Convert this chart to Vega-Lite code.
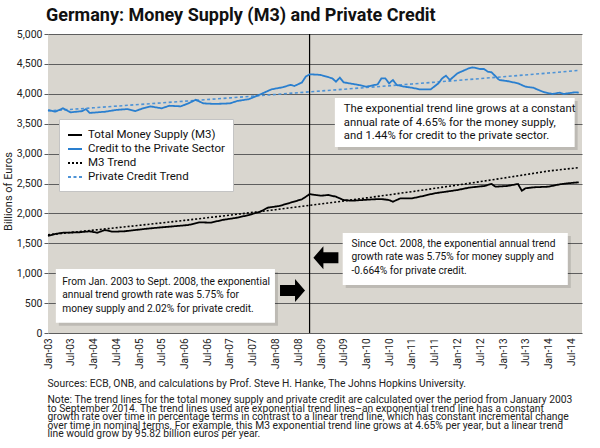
{
"$schema": "https://vega.github.io/schema/vega-lite/v6.json",
"width": 534, "height": 299,
"autosize": "none",
"padding": {"left": 48, "top": 34, "right": 18, "bottom": 115},
"background": "white",
"title": {"text": "Germany: Money Supply (M3) and Private Credit", "anchor": "start", "frame": "group", "fontSize": 18, "fontWeight": "bold", "font": "Roboto", "color": "#111", "offset": 4, "dx": -2},
"config": {
  "view": {"fill": "#d9d6cf", "stroke": null},
  "font": "Roboto",
  "axis": {"labelFont": "Roboto", "titleFont": "Roboto"},
  "legend": {"labelFont": "Roboto"}
},
"datasets": {
  "series": [
    {"series": "Credit to the Private Sector", "date": "2003-01-01", "value": 3729},
    {"series": "Credit to the Private Sector", "date": "2003-03-01", "value": 3701},
    {"series": "Credit to the Private Sector", "date": "2003-05-01", "value": 3757},
    {"series": "Credit to the Private Sector", "date": "2003-07-01", "value": 3690},
    {"series": "Credit to the Private Sector", "date": "2003-10-01", "value": 3710},
    {"series": "Credit to the Private Sector", "date": "2003-11-01", "value": 3745},
    {"series": "Credit to the Private Sector", "date": "2003-12-01", "value": 3680},
    {"series": "Credit to the Private Sector", "date": "2004-02-01", "value": 3690},
    {"series": "Credit to the Private Sector", "date": "2004-04-01", "value": 3700},
    {"series": "Credit to the Private Sector", "date": "2004-07-01", "value": 3730},
    {"series": "Credit to the Private Sector", "date": "2004-10-01", "value": 3745},
    {"series": "Credit to the Private Sector", "date": "2004-12-01", "value": 3710},
    {"series": "Credit to the Private Sector", "date": "2005-02-01", "value": 3757},
    {"series": "Credit to the Private Sector", "date": "2005-04-01", "value": 3790},
    {"series": "Credit to the Private Sector", "date": "2005-07-01", "value": 3757},
    {"series": "Credit to the Private Sector", "date": "2005-09-01", "value": 3800},
    {"series": "Credit to the Private Sector", "date": "2005-12-01", "value": 3790},
    {"series": "Credit to the Private Sector", "date": "2006-02-01", "value": 3840},
    {"series": "Credit to the Private Sector", "date": "2006-04-01", "value": 3900},
    {"series": "Credit to the Private Sector", "date": "2006-06-01", "value": 3840},
    {"series": "Credit to the Private Sector", "date": "2006-09-01", "value": 3830},
    {"series": "Credit to the Private Sector", "date": "2007-01-01", "value": 3840},
    {"series": "Credit to the Private Sector", "date": "2007-03-01", "value": 3880},
    {"series": "Credit to the Private Sector", "date": "2007-06-01", "value": 3910},
    {"series": "Credit to the Private Sector", "date": "2007-09-01", "value": 3990},
    {"series": "Credit to the Private Sector", "date": "2007-12-01", "value": 4075},
    {"series": "Credit to the Private Sector", "date": "2008-03-01", "value": 4110},
    {"series": "Credit to the Private Sector", "date": "2008-05-01", "value": 4150},
    {"series": "Credit to the Private Sector", "date": "2008-06-01", "value": 4130},
    {"series": "Credit to the Private Sector", "date": "2008-08-01", "value": 4190},
    {"series": "Credit to the Private Sector", "date": "2008-09-01", "value": 4290},
    {"series": "Credit to the Private Sector", "date": "2008-10-01", "value": 4326},
    {"series": "Credit to the Private Sector", "date": "2008-12-01", "value": 4320},
    {"series": "Credit to the Private Sector", "date": "2009-01-01", "value": 4314},
    {"series": "Credit to the Private Sector", "date": "2009-04-01", "value": 4259},
    {"series": "Credit to the Private Sector", "date": "2009-05-01", "value": 4203},
    {"series": "Credit to the Private Sector", "date": "2009-06-01", "value": 4270},
    {"series": "Credit to the Private Sector", "date": "2009-07-01", "value": 4192},
    {"series": "Credit to the Private Sector", "date": "2009-11-01", "value": 4147},
    {"series": "Credit to the Private Sector", "date": "2010-01-01", "value": 4119},
    {"series": "Credit to the Private Sector", "date": "2010-04-01", "value": 4159},
    {"series": "Credit to the Private Sector", "date": "2010-05-01", "value": 4259},
    {"series": "Credit to the Private Sector", "date": "2010-06-01", "value": 4259},
    {"series": "Credit to the Private Sector", "date": "2010-07-01", "value": 4175},
    {"series": "Credit to the Private Sector", "date": "2010-08-01", "value": 4231},
    {"series": "Credit to the Private Sector", "date": "2010-09-01", "value": 4147},
    {"series": "Credit to the Private Sector", "date": "2010-11-01", "value": 4119},
    {"series": "Credit to the Private Sector", "date": "2011-01-01", "value": 4102},
    {"series": "Credit to the Private Sector", "date": "2011-03-01", "value": 4075},
    {"series": "Credit to the Private Sector", "date": "2011-06-01", "value": 4075},
    {"series": "Credit to the Private Sector", "date": "2011-08-01", "value": 4175},
    {"series": "Credit to the Private Sector", "date": "2011-09-01", "value": 4259},
    {"series": "Credit to the Private Sector", "date": "2011-10-01", "value": 4303},
    {"series": "Credit to the Private Sector", "date": "2011-11-01", "value": 4231},
    {"series": "Credit to the Private Sector", "date": "2012-01-01", "value": 4342},
    {"series": "Credit to the Private Sector", "date": "2012-04-01", "value": 4426},
    {"series": "Credit to the Private Sector", "date": "2012-05-01", "value": 4443},
    {"series": "Credit to the Private Sector", "date": "2012-07-01", "value": 4415},
    {"series": "Credit to the Private Sector", "date": "2012-08-01", "value": 4415},
    {"series": "Credit to the Private Sector", "date": "2012-09-01", "value": 4370},
    {"series": "Credit to the Private Sector", "date": "2012-10-01", "value": 4360},
    {"series": "Credit to the Private Sector", "date": "2012-12-01", "value": 4231},
    {"series": "Credit to the Private Sector", "date": "2013-02-01", "value": 4214},
    {"series": "Credit to the Private Sector", "date": "2013-05-01", "value": 4175},
    {"series": "Credit to the Private Sector", "date": "2013-07-01", "value": 4119},
    {"series": "Credit to the Private Sector", "date": "2013-09-01", "value": 4102},
    {"series": "Credit to the Private Sector", "date": "2013-11-01", "value": 4047},
    {"series": "Credit to the Private Sector", "date": "2013-12-01", "value": 4025},
    {"series": "Credit to the Private Sector", "date": "2014-02-01", "value": 3997},
    {"series": "Credit to the Private Sector", "date": "2014-04-01", "value": 4019},
    {"series": "Credit to the Private Sector", "date": "2014-05-01", "value": 3997},
    {"series": "Credit to the Private Sector", "date": "2014-08-01", "value": 4025},
    {"series": "Credit to the Private Sector", "date": "2014-09-01", "value": 4020},
    {"series": "Total Money Supply (M3)", "date": "2003-01-01", "value": 1622},
    {"series": "Total Money Supply (M3)", "date": "2003-03-01", "value": 1656},
    {"series": "Total Money Supply (M3)", "date": "2003-05-01", "value": 1677},
    {"series": "Total Money Supply (M3)", "date": "2003-09-01", "value": 1683},
    {"series": "Total Money Supply (M3)", "date": "2003-12-01", "value": 1700},
    {"series": "Total Money Supply (M3)", "date": "2004-02-01", "value": 1677},
    {"series": "Total Money Supply (M3)", "date": "2004-04-01", "value": 1722},
    {"series": "Total Money Supply (M3)", "date": "2004-06-01", "value": 1694},
    {"series": "Total Money Supply (M3)", "date": "2004-09-01", "value": 1700},
    {"series": "Total Money Supply (M3)", "date": "2004-12-01", "value": 1722},
    {"series": "Total Money Supply (M3)", "date": "2005-04-01", "value": 1750},
    {"series": "Total Money Supply (M3)", "date": "2005-07-01", "value": 1767},
    {"series": "Total Money Supply (M3)", "date": "2005-11-01", "value": 1789},
    {"series": "Total Money Supply (M3)", "date": "2006-02-01", "value": 1806},
    {"series": "Total Money Supply (M3)", "date": "2006-05-01", "value": 1851},
    {"series": "Total Money Supply (M3)", "date": "2006-08-01", "value": 1845},
    {"series": "Total Money Supply (M3)", "date": "2006-11-01", "value": 1890},
    {"series": "Total Money Supply (M3)", "date": "2007-03-01", "value": 1929},
    {"series": "Total Money Supply (M3)", "date": "2007-06-01", "value": 1973},
    {"series": "Total Money Supply (M3)", "date": "2007-09-01", "value": 2029},
    {"series": "Total Money Supply (M3)", "date": "2007-11-01", "value": 2096},
    {"series": "Total Money Supply (M3)", "date": "2008-02-01", "value": 2124},
    {"series": "Total Money Supply (M3)", "date": "2008-05-01", "value": 2179},
    {"series": "Total Money Supply (M3)", "date": "2008-08-01", "value": 2236},
    {"series": "Total Money Supply (M3)", "date": "2008-09-01", "value": 2279},
    {"series": "Total Money Supply (M3)", "date": "2008-10-01", "value": 2322},
    {"series": "Total Money Supply (M3)", "date": "2009-01-01", "value": 2296},
    {"series": "Total Money Supply (M3)", "date": "2009-03-01", "value": 2308},
    {"series": "Total Money Supply (M3)", "date": "2009-05-01", "value": 2279},
    {"series": "Total Money Supply (M3)", "date": "2009-07-01", "value": 2224},
    {"series": "Total Money Supply (M3)", "date": "2009-09-01", "value": 2212},
    {"series": "Total Money Supply (M3)", "date": "2009-12-01", "value": 2224},
    {"series": "Total Money Supply (M3)", "date": "2010-03-01", "value": 2236},
    {"series": "Total Money Supply (M3)", "date": "2010-05-01", "value": 2240},
    {"series": "Total Money Supply (M3)", "date": "2010-07-01", "value": 2224},
    {"series": "Total Money Supply (M3)", "date": "2010-08-01", "value": 2196},
    {"series": "Total Money Supply (M3)", "date": "2010-10-01", "value": 2252},
    {"series": "Total Money Supply (M3)", "date": "2011-01-01", "value": 2252},
    {"series": "Total Money Supply (M3)", "date": "2011-04-01", "value": 2291},
    {"series": "Total Money Supply (M3)", "date": "2011-07-01", "value": 2336},
    {"series": "Total Money Supply (M3)", "date": "2011-10-01", "value": 2363},
    {"series": "Total Money Supply (M3)", "date": "2012-01-01", "value": 2391},
    {"series": "Total Money Supply (M3)", "date": "2012-04-01", "value": 2430},
    {"series": "Total Money Supply (M3)", "date": "2012-08-01", "value": 2458},
    {"series": "Total Money Supply (M3)", "date": "2012-10-01", "value": 2492},
    {"series": "Total Money Supply (M3)", "date": "2012-11-01", "value": 2447},
    {"series": "Total Money Supply (M3)", "date": "2013-02-01", "value": 2458},
    {"series": "Total Money Supply (M3)", "date": "2013-05-01", "value": 2492},
    {"series": "Total Money Supply (M3)", "date": "2013-06-01", "value": 2380},
    {"series": "Total Money Supply (M3)", "date": "2013-07-01", "value": 2420},
    {"series": "Total Money Supply (M3)", "date": "2013-09-01", "value": 2436},
    {"series": "Total Money Supply (M3)", "date": "2014-01-01", "value": 2447},
    {"series": "Total Money Supply (M3)", "date": "2014-04-01", "value": 2486},
    {"series": "Total Money Supply (M3)", "date": "2014-06-01", "value": 2503},
    {"series": "Total Money Supply (M3)", "date": "2014-09-01", "value": 2520}
  ],
  "trend": [
    {"series": "M3 Trend", "date": "2003-01-01", "value": 1643},
    {"series": "M3 Trend", "date": "2004-01-01", "value": 1720},
    {"series": "M3 Trend", "date": "2005-01-01", "value": 1800},
    {"series": "M3 Trend", "date": "2006-01-01", "value": 1883},
    {"series": "M3 Trend", "date": "2007-01-01", "value": 1971},
    {"series": "M3 Trend", "date": "2008-01-01", "value": 2062},
    {"series": "M3 Trend", "date": "2009-01-01", "value": 2158},
    {"series": "M3 Trend", "date": "2010-01-01", "value": 2259},
    {"series": "M3 Trend", "date": "2011-01-01", "value": 2364},
    {"series": "M3 Trend", "date": "2012-01-01", "value": 2474},
    {"series": "M3 Trend", "date": "2013-01-01", "value": 2589},
    {"series": "M3 Trend", "date": "2014-01-01", "value": 2709},
    {"series": "M3 Trend", "date": "2014-09-01", "value": 2765},
    {"series": "Private Credit Trend", "date": "2003-01-01", "value": 3712},
    {"series": "Private Credit Trend", "date": "2004-01-01", "value": 3766},
    {"series": "Private Credit Trend", "date": "2005-01-01", "value": 3821},
    {"series": "Private Credit Trend", "date": "2006-01-01", "value": 3876},
    {"series": "Private Credit Trend", "date": "2007-01-01", "value": 3932},
    {"series": "Private Credit Trend", "date": "2008-01-01", "value": 3989},
    {"series": "Private Credit Trend", "date": "2009-01-01", "value": 4047},
    {"series": "Private Credit Trend", "date": "2010-01-01", "value": 4105},
    {"series": "Private Credit Trend", "date": "2011-01-01", "value": 4164},
    {"series": "Private Credit Trend", "date": "2012-01-01", "value": 4224},
    {"series": "Private Credit Trend", "date": "2013-01-01", "value": 4285},
    {"series": "Private Credit Trend", "date": "2014-01-01", "value": 4347},
    {"series": "Private Credit Trend", "date": "2014-09-01", "value": 4392}
  ],
  "boxes": [
    {"date": "2009-04-22", "date2": "2014-07-30", "value": 3930, "value2": 3110},
    {"date": "2009-06-24", "date2": "2014-06-05", "value": 1672, "value2": 803},
    {"date": "2003-03-05", "date2": "2007-12-28", "value": 1070, "value2": 172}
  ],
  "notesTop": [
    {"date": "2009-07-03", "value": 3696, "text": ["The exponential trend line grows at a constant", "annual rate of 4.65% for the money supply,", "and 1.44% for credit to the private sector."]}
  ],
  "notesLow": [
    {"date": "2009-09-02", "value": 1445, "text": ["Since Oct. 2008, the exponential annual trend", "growth rate was 5.75% for money supply and", "-0.664% for private credit."]},
    {"date": "2003-04-26", "value": 808, "text": ["From Jan. 2003 to Sept. 2008, the exponential", "annual trend growth rate was 5.75% for", "money supply and 2.02% for private credit."]}
  ],
  "arrows": [
    {"date": "2008-05-17", "value": 711, "dir": "right"},
    {"date": "2009-02-09", "value": 1259, "dir": "left"}
  ],
  "events": [
    {"date": "2008-10-01", "value": 0, "value2": 5000}
  ]
},
"encoding": {
  "x": {"field": "date", "type": "temporal", "scale": {"domain": ["2003-01-01", "2014-09-27"]},
    "axis": {"tickCount": {"interval": "month", "step": 6}, "format": "%b-%y", "labelAngle": 270, "labelFontSize": 10, "labelPadding": 5, "labelColor": "#222", "labelOverlap": false, "ticks": false, "domain": false, "grid": false,
      "title": ["Sources: ECB, ONB, and calculations by Prof. Steve H. Hanke,  The Johns Hopkins University.", "\u200b", "Note: The trend lines for the total money supply and private credit are calculated over the period from January 2003", "to September 2014. The trend lines used are exponential trend lines\u2013an exponential trend line has a constant", "growth rate over time in percentage terms in contrast to a linear trend line, which has constant incremental change", "over time in nominal terms. For example, this M3 exponential trend line grows at 4.65% per year, but a linear trend", "line would grow by 95.82 billion euros per year."],
      "titleAnchor": "start", "titleAlign": "left", "titleX": -1, "titleY": 53, "titleBaseline": "alphabetic", "titleFontSize": 10.3, "titleFontWeight": "normal", "titleLineHeight": 8.4, "titleColor": "#222", "titleLimit": 1000}},
  "y": {"field": "value", "type": "quantitative", "scale": {"domain": [0, 5000]},
    "axis": {"values": [0, 500, 1000, 1500, 2000, 2500, 3000, 3500, 4000, 4500, 5000], "format": ",.0f", "grid": true, "gridColor": "#5e5e5e", "gridWidth": 1, "domain": false, "tickColor": "#5e5e5e", "tickSize": 4, "labelFontSize": 10.5, "labelColor": "#222", "labelPadding": 2, "title": "Billions of Euros", "titleFontSize": 11, "titleFontWeight": "normal", "titleColor": "#222", "titleX": -35, "titleY": 157, "titleBaseline": "bottom", "titleAnchor": "middle"}}
},
"layer": [
  {"data": {"name": "events"}, "mark": {"type": "rule", "color": "#000", "strokeWidth": 1.2}, "encoding": {"y2": {"field": "value2"}}},
  {"data": {"name": "trend"}, "mark": {"type": "line", "strokeWidth": 1.6},
    "encoding": {
      "color": {"field": "series", "type": "nominal", "scale": {"domain": ["Total Money Supply (M3)", "Credit to the Private Sector", "M3 Trend", "Private Credit Trend"], "range": ["#000000", "#2a7fcf", "#000000", "#4e93d6"]},
        "legend": {"title": null, "orient": "none", "legendX": 11, "legendY": 85, "padding": 8, "fillColor": "#ffffff", "strokeColor": "#c4c4c4", "labelFontSize": 11.5, "labelColor": "#111", "symbolType": "stroke", "symbolSize": 196, "symbolStrokeWidth": 2, "rowPadding": -1, "labelOffset": 5, "labelLimit": 300}},
      "strokeDash": {"field": "series", "type": "nominal", "scale": {"domain": ["Total Money Supply (M3)", "Credit to the Private Sector", "M3 Trend", "Private Credit Trend"], "range": [[1, 0], [1, 0], [2, 2], [3, 2.5]]}}
    }},
  {"data": {"name": "series"}, "mark": {"type": "line", "strokeWidth": 1.8},
    "encoding": {
      "color": {"field": "series", "type": "nominal"},
      "strokeDash": {"field": "series", "type": "nominal"}
    }},
  {"data": {"name": "boxes"}, "mark": {"type": "rect", "fill": "#000", "opacity": 0.13, "xOffset": 3, "x2Offset": 3, "yOffset": 3, "y2Offset": 3}, "encoding": {"x2": {"field": "date2"}, "y2": {"field": "value2"}}},
  {"data": {"name": "boxes"}, "mark": {"type": "rect", "fill": "#ffffff"}, "encoding": {"x2": {"field": "date2"}, "y2": {"field": "value2"}}},
  {"data": {"name": "notesTop"}, "mark": {"type": "text", "align": "left", "baseline": "alphabetic", "fontSize": 11.3, "lineHeight": 13.7, "color": "#111"}, "encoding": {"text": {"field": "text"}}},
  {"data": {"name": "notesLow"}, "mark": {"type": "text", "align": "left", "baseline": "alphabetic", "fontSize": 10.2, "lineHeight": 13.7, "color": "#111"}, "encoding": {"text": {"field": "text"}}},
  {"data": {"name": "arrows"}, "mark": {"type": "point", "filled": true, "opacity": 1, "color": "#000", "size": 625, "strokeWidth": 0},
    "encoding": {"shape": {"field": "dir", "type": "nominal", "scale": {"domain": ["right", "left"], "range": ["M -1 -0.44 L 0.2 -0.44 L 0.2 -0.92 L 1 0 L 0.2 0.92 L 0.2 0.44 L -1 0.44 Z", "M 1 -0.44 L -0.2 -0.44 L -0.2 -0.92 L -1 0 L -0.2 0.92 L -0.2 0.44 L 1 0.44 Z"]}, "legend": null}}}
]
}
